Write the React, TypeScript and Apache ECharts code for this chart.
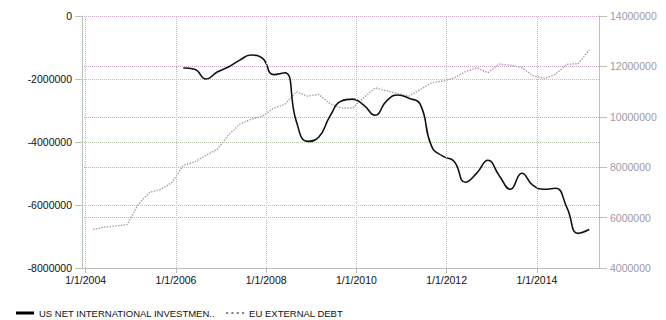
import React, { useEffect, useRef } from "react";
import * as echarts from "echarts";

const quarters: string[] = [
  "2004-03-01", "2004-06-01", "2004-09-01", "2004-12-01",
  "2005-03-01", "2005-06-01", "2005-09-01", "2005-12-01",
  "2006-03-01", "2006-06-01", "2006-09-01", "2006-12-01",
  "2007-03-01", "2007-06-01", "2007-09-01", "2007-12-01",
  "2008-03-01", "2008-06-01", "2008-09-01", "2008-12-01",
  "2009-03-01", "2009-06-01", "2009-09-01", "2009-12-01",
  "2010-03-01", "2010-06-01", "2010-09-01", "2010-12-01",
  "2011-03-01", "2011-06-01", "2011-09-01", "2011-12-01",
  "2012-03-01", "2012-06-01", "2012-09-01", "2012-12-01",
  "2013-03-01", "2013-06-01", "2013-09-01", "2013-12-01",
  "2014-03-01", "2014-06-01", "2014-09-01", "2014-12-01",
  "2015-03-01",
];

// EU external debt (right axis), from Mar 2004
const euDebt: number[] = [
  5530000, 5620000, 5670000, 5720000,
  6520000, 7000000, 7120000, 7400000,
  8080000, 8210000, 8470000, 8710000,
  9270000, 9710000, 9900000, 10020000,
  10340000, 10500000, 10990000, 10820000,
  10890000, 10520000, 10350000, 10350000,
  10760000, 11150000, 11030000, 10920000,
  10820000, 11080000, 11350000, 11420000,
  11540000, 11790000, 11940000, 11750000,
  12090000, 12050000, 11950000, 11630000,
  11520000, 11690000, 12080000, 12110000,
  12650000,
];

// US net international investment position (left axis), from Mar 2006
const usStartIndex = 8;
const usNiip: number[] = [
  -1650000, -1690000, -2000000, -1780000,
  -1620000, -1400000, -1240000, -1340000,
  -1860000, -1800000, -3340000, -3980000,
  -3850000, -3180000, -2700000, -2640000,
  -2830000, -3150000, -2700000, -2510000,
  -2610000, -2800000, -4130000, -4450000,
  -4610000, -5280000, -4990000, -4580000,
  -5060000, -5500000, -4990000, -5380000,
  -5500000, -5470000, -6080000, -6900000,
  -6780000,
];

const xTickDates: string[] = ["2004-01-01", "2006-01-01", "2008-01-01", "2010-01-01", "2012-01-01", "2014-01-01"];
const xMinDate = "2003-12-02";
const xMaxDate = "2015-05-19";

const usName = "US NET INTERNATIONAL INVESTMEN..";
const euName = "EU EXTERNAL DEBT";

const FONT = "Liberation Sans, Arial, sans-serif";

export default function App() {
  const ref = useRef<HTMLDivElement>(null);
  useEffect(() => {
    if (!ref.current) return;
    const chart = echarts.init(ref.current, undefined, { renderer: "svg" });
    const ts = (s: string) => new Date(s + "T00:00:00Z").getTime();
    const tickTs = xTickDates.map(ts);
    const euData = quarters.map((q, i) => [ts(q), euDebt[i]]);
    const usData = usNiip.map((v, i) => [ts(quarters[i + usStartIndex]), v]);
    const plain = (v: number) => String(Math.round(v));
    chart.setOption({
      animation: false,
      textStyle: { fontFamily: FONT },
      grid: { left: 82, right: 67, top: 16, bottom: 52, containLabel: false },
      legend: {
        left: 16,
        top: 308,
        padding: 0,
        itemWidth: 18,
        itemHeight: 3,
        itemGap: 11,
        textStyle: { fontSize: 9.5, color: "#111", fontFamily: FONT },
        data: [
          { name: usName, icon: "rect", itemStyle: { color: "#000", opacity: 1 } },
          {
            name: euName,
            icon: "path://M0,0h2v2h-2zM5,0h2v2h-2zM10,0h2v2h-2zM15,0h2v2h-2z",
            itemStyle: { color: "#8a7f8c", opacity: 1 },
          },
        ],
      },
      xAxis: {
        type: "value",
        min: ts(xMinDate),
        max: ts(xMaxDate),
        axisLine: { onZero: false, lineStyle: { color: "#b7c0b7", width: 1 } },
        axisTick: { show: true, length: 5, customValues: tickTs, lineStyle: { color: "#b7c0b7" } },
        axisLabel: {
          customValues: tickTs,
          margin: 6,
          fontSize: 10.5,
          color: "#111",
          fontFamily: FONT,
          formatter: (v: number) => {
            const d = new Date(v);
            return `${d.getUTCMonth() + 1}/${d.getUTCDate()}/${d.getUTCFullYear()}`;
          },
        },
        splitLine: { show: false },
      },
      yAxis: [
        {
          type: "value",
          min: -8000000,
          max: 0,
          interval: 2000000,
          axisLine: { show: true, lineStyle: { color: "#b7c3b7" } },
          axisTick: { show: true, length: 7, lineStyle: { color: "#b7c3b7" } },
          axisLabel: { margin: 10, fontSize: 10.5, color: "#111", fontFamily: FONT, formatter: plain },
          splitLine: { show: true, lineStyle: { type: "dotted", color: "#b3c3ad", width: 1 } },
        },
        {
          type: "value",
          position: "right",
          min: 4000000,
          max: 14000000,
          interval: 2000000,
          axisLine: { show: true, lineStyle: { color: "#b7c3b7" } },
          axisTick: { show: true, length: 8, lineStyle: { color: "#b7c3b7" } },
          axisLabel: { margin: 11, fontSize: 10.5, color: "#a098a8", fontFamily: FONT, formatter: plain },
          splitLine: { show: true, lineStyle: { type: "dotted", color: "#c9a3c9", width: 1 } },
        },
      ],
      series: [
        {
          name: euName,
          type: "line",
          yAxisIndex: 1,
          data: euData,
          symbol: "none",
          lineStyle: { color: "#a898a8", width: 1.4, type: "dotted" },
          itemStyle: { color: "#a898a8" },
          markLine: {
            silent: true,
            symbol: "none",
            label: { show: false },
            lineStyle: { type: "dotted", color: "#bcc6b6", width: 1 },
            data: tickTs.map((t) => ({ xAxis: t })),
          },
          z: 2,
        },
        {
          name: usName,
          type: "line",
          yAxisIndex: 0,
          data: usData,
          symbol: "none",
          smooth: true,
          lineStyle: { color: "#111", width: 1.6 },
          itemStyle: { color: "#000" },
          z: 3,
        },
      ],
    });
    return () => chart.dispose();
  }, []);
  return <div ref={ref} style={{ width: 666, height: 320, position: "absolute", left: 0, top: 0 }} />;
}
